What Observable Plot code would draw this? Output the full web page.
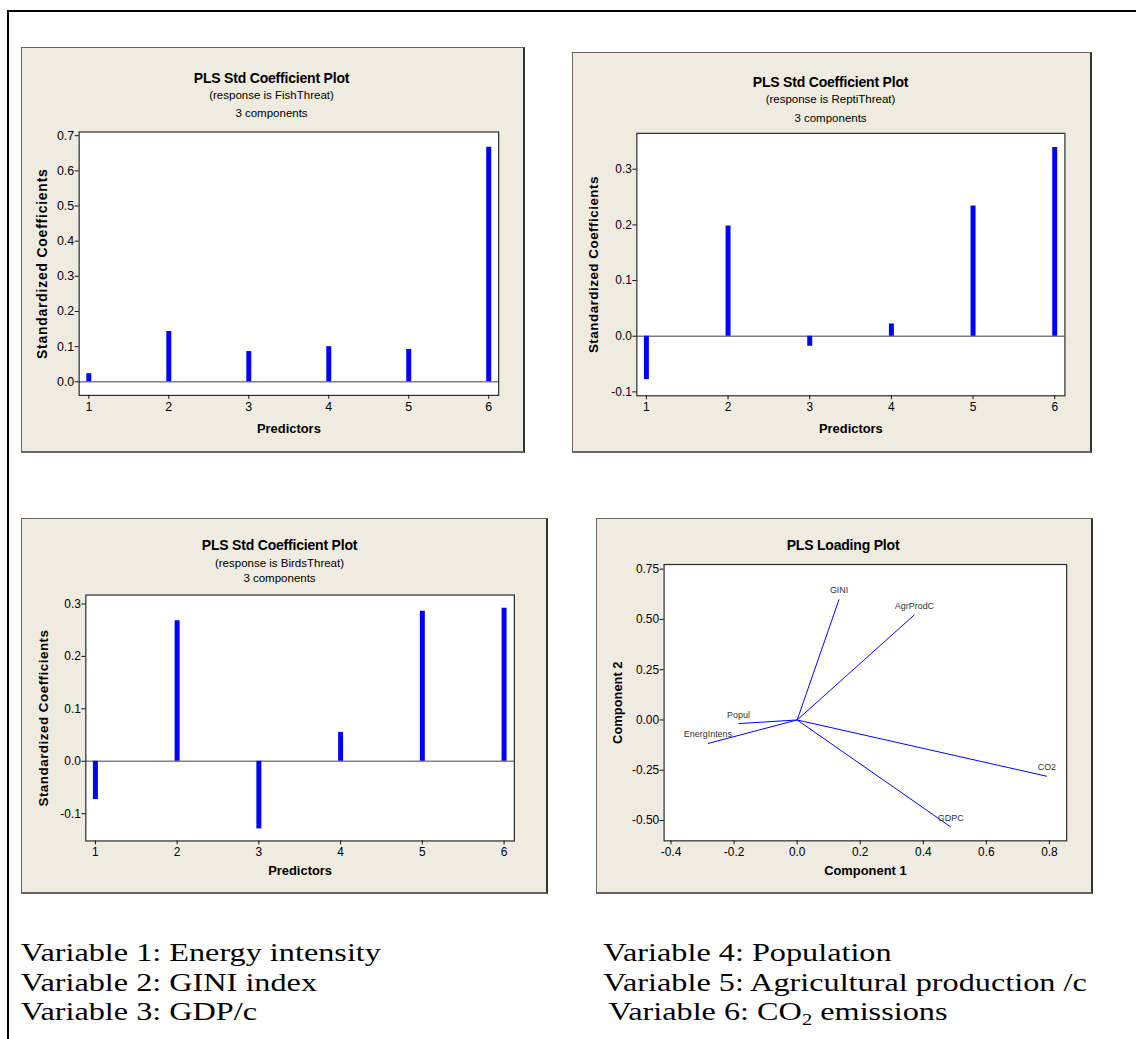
<!DOCTYPE html>
<html>
<head>
<meta charset="utf-8">
<script src="https://cdn.jsdelivr.net/npm/d3@7"></script>
<script src="https://cdn.jsdelivr.net/npm/@observablehq/plot@0.6"></script>
<style>
  html, body { margin: 0; padding: 0; background: #fff; width: 1136px; height: 1039px; overflow: hidden; }
  #root { position: relative; width: 1136px; height: 1039px; }
  .frame { position: absolute; left: 6.5px; top: 9.5px; width: 1200px; height: 1200px; border-left: 2px solid #000; border-top: 2px solid #000; }
  .panel { position: absolute; box-sizing: border-box; background: #EFEBE1;
           border-top: 1px solid #666; border-left: 1px solid #666; border-right: 2px solid #333; border-bottom: 2px solid #666; }
  .panel svg { position: absolute; left: -1px; top: -1px; }
  .ttl { position: absolute; left: 0; width: 100%; text-align: center; white-space: nowrap; font-family: "Liberation Sans", Arial, sans-serif; color: #000; }
  .ttl.main { font-weight: bold; font-size: 14px; line-height: 14px; letter-spacing: -0.2px; }
  .ttl.sub { font-size: 11.5px; line-height: 12px; }
  svg [aria-label="x-axis label"] text, svg [aria-label="y-axis label"] text { font-weight: bold; font-size: 13px; fill: #000; }
  .p1 svg [aria-label="y-axis label"] text { font-size: 14px; letter-spacing: 0.8px; }
  .p2 svg [aria-label="y-axis label"] text, .p3 svg [aria-label="y-axis label"] text { font-size: 13.5px; letter-spacing: 0.5px; }
  svg [aria-label="x-axis tick label"] text, svg [aria-label="y-axis tick label"] text { fill: #000; }
</style>
</head>
<body>
<div id="root"><div class="frame"></div></div>
<script>
// ---- data ----
const predictors = [1, 2, 3, 4, 5, 6];
const fishCoef  = [0.023, 0.143, 0.086, 0.100, 0.092, 0.667];
const reptiCoef = [-0.078, 0.198, -0.018, 0.022, 0.234, 0.339];
const birdsCoef = [-0.073, 0.268, -0.129, 0.055, 0.286, 0.292];

const loadingNames = ["EnergIntens", "GINI", "GDPC", "Popul", "AgrProdC", "CO2"];
const component1   = [-0.283, 0.133, 0.487, -0.186, 0.372, 0.792];
const component2   = [-0.117, 0.600, -0.532, -0.018, 0.523, -0.280];

const coefTicksFish = [0, 0.1, 0.2, 0.3, 0.4, 0.5, 0.6, 0.7];
const coefTicksOther = [-0.1, 0, 0.1, 0.2, 0.3];
const loadYTicks = [-0.5, -0.25, 0, 0.25, 0.5, 0.75];
const loadXTicks = [-0.4, -0.2, 0, 0.2, 0.4, 0.6, 0.8];

const captionLeft = ["Variable 1: Energy intensity", "Variable 2: GINI index", "Variable 3: GDP/c"];
const captionRight = ["Variable 4: Population", "Variable 5: Agricultural production /c"];

// ---- layout helpers ----
const root = document.getElementById("root");
const font = "Liberation Sans, Arial, sans-serif";

function makePanel(box, titles, cls) {
  const p = document.createElement("div");
  p.className = "panel " + cls;
  Object.assign(p.style, {left: box.x + "px", top: box.y + "px", width: box.w + "px", height: box.h + "px"});
  titles.forEach(t => {
    const d = document.createElement("div");
    d.className = "ttl " + t.cls;
    d.textContent = t.text;
    const lh = t.cls === "main" ? 14 : 12;
    d.style.top = (t.cy - lh / 2 - 1) + "px";
    d.style.left = (t.cx - box.w / 2 - 1) + "px";
    p.appendChild(d);
  });
  root.appendChild(p);
  return p;
}

function coefPlot(values, cfg) {
  const rows = predictors.map((p, i) => ({p, v: values[i]}));
  return Plot.plot({
    width: cfg.w, height: cfg.h,
    marginLeft: cfg.m[0], marginTop: cfg.m[1], marginRight: cfg.m[2], marginBottom: cfg.m[3],
    style: {background: "transparent", fontFamily: font, fontSize: "12px", color: "#111"},
    x: {type: "linear", domain: cfg.xd},
    y: {domain: cfg.yd},
    marks: [
      Plot.frame({fill: "white", stroke: null}),
      Plot.ruleY([0], {stroke: "#808080", strokeWidth: 1.6}),
      Plot.ruleX(rows, {x: "p", y1: 0, y2: "v", stroke: "#0000ff", strokeWidth: 5}),
      Plot.frame({stroke: "#2a2a2a", strokeWidth: 1.2}),
      Plot.axisX({ticks: predictors, tickFormat: d => String(d), tickSize: 4, tickPadding: 3, fontSize: cfg.fs,
        label: "Predictors", labelAnchor: "center", labelArrow: "none", labelOffset: cfg.lo[0]}),
      Plot.axisY({ticks: cfg.yt, tickFormat: d => d.toFixed(1), tickSize: 4, tickPadding: 1, fontSize: cfg.fs,
        label: "Standardized Coefficients", labelAnchor: "center", labelArrow: "none", labelOffset: cfg.lo[1]})
    ]
  });
}

// Panel 1
{
  const box = {x: 21, y: 47, w: 504, h: 406};
  const p = makePanel(box, [
    {cls: "main", text: "PLS Std Coefficient Plot", cx: 252, cy: 30.7},
    {cls: "sub", text: "(response is FishThreat)", cx: 252, cy: 48},
    {cls: "sub", text: "3 components", cx: 252, cy: 66}
  ], "p1");
  p.appendChild(coefPlot(fishCoef, {w: 504, h: 406, m: [58, 85, 24, 56], fs: 12.5,
    xd: [0.879, 6.124], yd: [-0.0387, 0.7105], yt: coefTicksFish, lo: [37.4, 42.7]}));
}
// Panel 2
{
  const box = {x: 572, y: 52, w: 520, h: 401};
  const p = makePanel(box, [
    {cls: "main", text: "PLS Std Coefficient Plot", cx: 260, cy: 29.7},
    {cls: "sub", text: "(response is ReptiThreat)", cx: 260, cy: 47.3},
    {cls: "sub", text: "3 components", cx: 260, cy: 65.7}
  ], "p2");
  p.appendChild(coefPlot(reptiCoef, {w: 520, h: 401, m: [64.7, 81.3, 24.7, 55.7], fs: 12,
    xd: [0.883, 6.125], yd: [-0.107, 0.3645], yt: coefTicksOther, lo: [37.2, 48.4]}));
}
// Panel 3
{
  const box = {x: 21, y: 518, w: 527, h: 376};
  const p = makePanel(box, [
    {cls: "main", text: "PLS Std Coefficient Plot", cx: 260, cy: 27},
    {cls: "sub", text: "(response is BirdsThreat)", cx: 260, cy: 44.7},
    {cls: "sub", text: "3 components", cx: 260, cy: 60.3}
  ], "p3");
  p.appendChild(coefPlot(birdsCoef, {w: 527, h: 376, m: [64.7, 77, 31.3, 51.7], fs: 12,
    xd: [0.883, 6.126], yd: [-0.152, 0.317], yt: coefTicksOther, lo: [34.5, 47.4]}));
}
// Panel 4 (loading plot)
{
  const box = {x: 596, y: 518, w: 497, h: 376};
  const p = makePanel(box, [
    {cls: "main", text: "PLS Loading Plot", cx: 248.5, cy: 27}
  ], "p4");
  const rows = loadingNames.map((name, i) => ({name, c1: component1[i], c2: component2[i]}));
  p.appendChild(Plot.plot({
    width: 497, height: 376,
    marginLeft: 68, marginTop: 46.3, marginRight: 24, marginBottom: 51.7,
    style: {background: "transparent", fontFamily: font, fontSize: "12px", color: "#111"},
    x: {domain: [-0.422, 0.8546]},
    y: {domain: [-0.601, 0.773]},
    marks: [
      Plot.frame({fill: "white", stroke: null}),
      Plot.link(rows, {x1: () => 0, y1: () => 0, x2: "c1", y2: "c2", stroke: "#0000ff", strokeWidth: 1}),
      Plot.text(rows, {x: "c1", y: "c2", text: "name", dy: -9, fontSize: 9, fill: "#333"}),
      Plot.frame({stroke: "#2a2a2a", strokeWidth: 1.2}),
      Plot.axisX({ticks: loadXTicks, tickFormat: d => d.toFixed(1), tickSize: 4, tickPadding: 3, fontSize: 12,
        label: "Component 1", labelAnchor: "center", labelArrow: "none", labelOffset: 34.5}),
      Plot.axisY({ticks: loadYTicks, tickFormat: d => d.toFixed(2), tickSize: 4, tickPadding: 1, fontSize: 12,
        label: "Component 2", labelAnchor: "center", labelArrow: "none", labelOffset: 51.7})
    ]
  }));
}

// ---- captions ----
{
  const ns = "http://www.w3.org/2000/svg";
  const svg = document.createElementNS(ns, "svg");
  svg.setAttribute("width", 1136); svg.setAttribute("height", 1039);
  Object.assign(svg.style, {position: "absolute", left: "0px", top: "0px", pointerEvents: "none"});
  const baselines = [961, 991, 1020];
  const sx = 1.29;
  function line(x, y, parts) {
    const g = document.createElementNS(ns, "g");
    g.setAttribute("transform", `translate(${x},${y}) scale(${sx},1)`);
    const t = document.createElementNS(ns, "text");
    t.setAttribute("font-family", "Liberation Serif, Times New Roman, serif");
    t.setAttribute("font-size", 25);
    t.setAttribute("fill", "#000");
    t.setAttribute("xml:space", "preserve");
    parts.forEach(pt => {
      const s = document.createElementNS(ns, "tspan");
      s.textContent = pt.text;
      if (pt.sub) { s.setAttribute("font-size", 16); s.setAttribute("dy", 5); }
      if (pt.back) { s.setAttribute("dy", -5); }
      t.appendChild(s);
    });
    g.appendChild(t);
    svg.appendChild(g);
  }
  captionLeft.forEach((c, i) => line(20.7, baselines[i], [{text: c}]));
  captionRight.forEach((c, i) => line(603.3, baselines[i], [{text: c}]));
  line(608.5, baselines[2], [{text: "Variable 6: CO"}, {text: "2", sub: true}, {text: " emissions", back: true}]);
  root.appendChild(svg);
}
</script>
</body>
</html>
